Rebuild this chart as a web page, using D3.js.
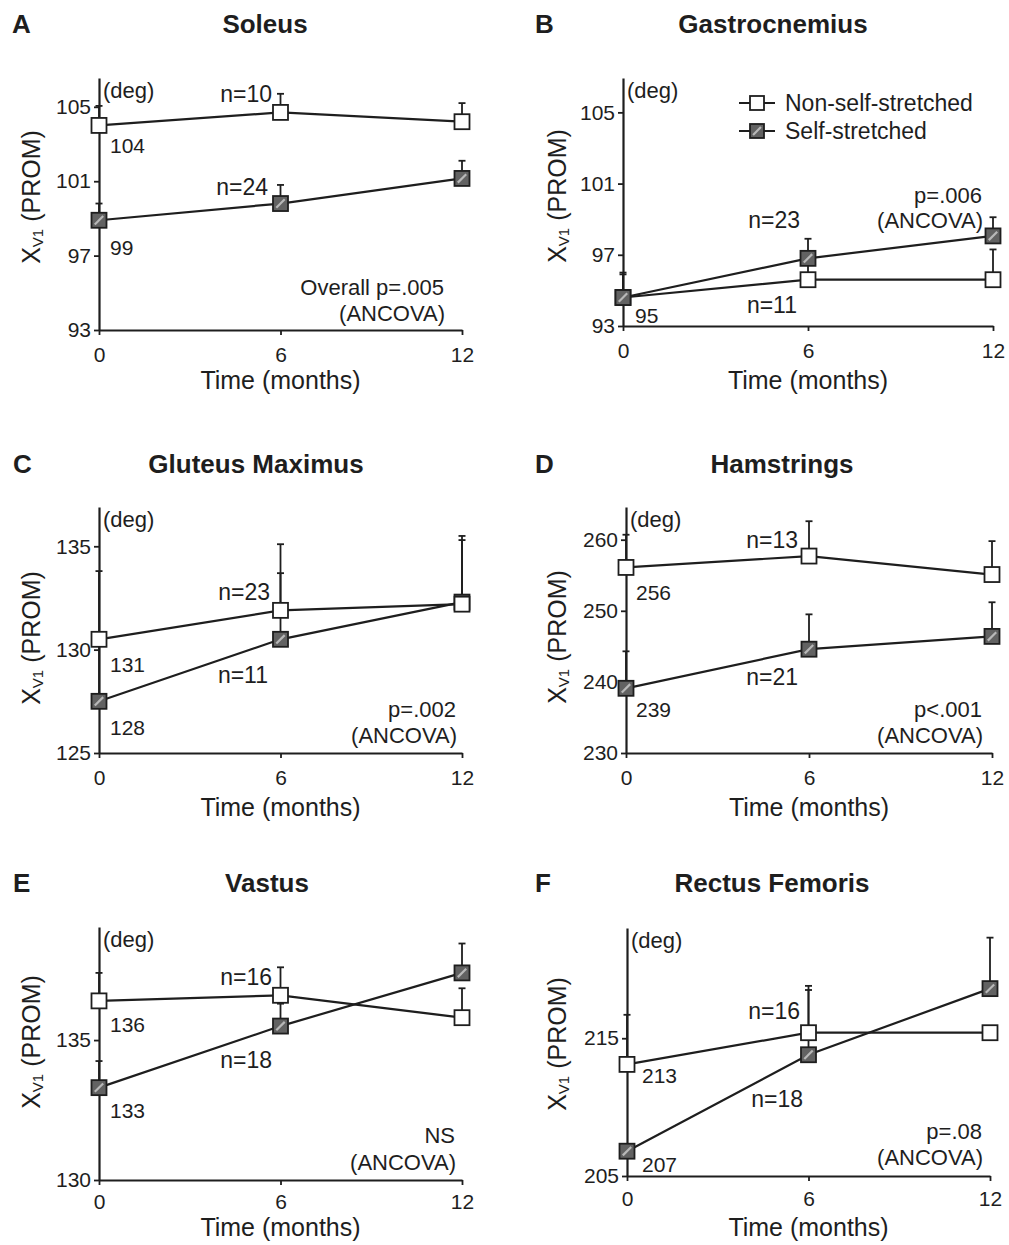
<!DOCTYPE html>
<html><head><meta charset="utf-8">
<script src="https://cdn.jsdelivr.net/npm/d3@7"></script>
<style>
body{margin:0;background:#fff;}
svg{display:block;background:#fff;}
text{font-family:"Liberation Sans",Arial,Helvetica,sans-serif;fill:#1e1e1e;}
</style></head><body>
<svg id="chart" width="1009" height="1245"></svg>
<script>
// ---------- DATA ----------
const months = [0, 6, 12];
const seriesNames = ["Non-self-stretched", "Self-stretched"];
const panelLetters = ["A", "B", "C", "D", "E", "F"];
const panelTitles = ["Soleus", "Gastrocnemius", "Gluteus Maximus", "Hamstrings", "Vastus", "Rectus Femoris"];
const yTickValues = [[93, 97, 101, 105], [93, 97, 101, 105], [125, 130, 135], [230, 240, 250, 260], [130, 135], [205, 215]];
const yAxisMin = [93, 93, 125, 230, 130, 205];
const yAxisMax = [106.55, 106.93, 136.9, 264.6, 139.04, 223.0];

const nonMean = [[104.0, 104.7, 104.2], [94.6, 95.6, 95.6], [130.5, 131.9, 132.2], [256.1, 257.7, 255.1], [136.4, 136.6, 135.8], [213.1, 215.4, 215.4]];
const nonErr  = [[1.05, 1.0, 1.0], [1.3, 1.1, 1.7], [3.3, 3.2, 3.3], [4.6, 4.9, 4.7], [1.0, 1.0, 1.05], [3.6, 3.4, null]];
const selfMean = [[98.9, 99.8, 101.15], [94.6, 96.8, 98.06], [127.5, 130.5, 132.3], [239.1, 244.6, 246.4], [133.3, 135.5, 137.4], [206.8, 213.8, 218.6]];
const selfErr  = [[0.9, 1.0, 0.95], [1.4, 1.1, 1.05], [2.8, 3.2, 3.0], [5.2, 4.9, 4.8], [0.95, 0.8, 1.05], [null, 4.7, 3.7]];

const nLabelNon  = ["n=10", "n=11", "n=23", "n=13", "n=16", "n=16"];
const nLabelSelf = ["n=24", "n=23", "n=11", "n=21", "n=18", "n=18"];
const baseLabelNon  = ["104", "95", "131", "256", "136", "213"];
const baseLabelSelf = ["99", "", "128", "239", "133", "207"];
const statLabels = ["Overall p=.005", "p=.006", "p=.002", "p<.001", "NS", "p=.08"];
const statMethod = "(ANCOVA)";
const xAxisTitle = "Time (months)";

// ---------- LAYOUT ----------
const layout = [
  {x0: 99, x1: 462, yb: 330, yt: 78, letter: [12, 33], title: [265, 33], ylab: [31, 197], xlab: 389, tpad: 12,
   nNon: [272, 102], nSelf: [268, 195], bNon: [110, 153], bSelf: [110, 255], stat: [444, 295, 321], selfOnTop: false},
  {x0: 623, x1: 993, yb: 326, yt: 78, letter: [535, 33], title: [773, 33], ylab: [557, 196], xlab: 389, tpad: 12,
   nNon: [797, 313], nSelf: [800, 228], bNon: [635, 323], bSelf: [635, 323], stat: [982, 203, 228], selfOnTop: true, legend: true},
  {x0: 99, x1: 462, yb: 753, yt: 507, letter: [13, 473], title: [256, 473], ylab: [31, 638], xlab: 816, tpad: 12,
   nNon: [270, 600], nSelf: [268, 683], bNon: [110, 672], bSelf: [110, 735], stat: [456, 717, 743], selfOnTop: false},
  {x0: 626, x1: 992, yb: 753, yt: 507, letter: [535, 473], title: [782, 473], ylab: [557, 637], xlab: 816, tpad: 12,
   nNon: [798, 548], nSelf: [798, 685], bNon: [636, 600], bSelf: [636, 717], stat: [982, 717, 743], selfOnTop: false},
  {x0: 99, x1: 462, yb: 1180, yt: 927, letter: [13, 892], title: [267, 892], ylab: [31, 1042], xlab: 1236, tpad: 9,
   nNon: [272, 985], nSelf: [272, 1068], bNon: [110, 1032], bSelf: [110, 1118], stat: [455, 1143, 1170], selfOnTop: false},
  {x0: 627, x1: 990, yb: 1176, yt: 928, letter: [535, 892], title: [772, 892], ylab: [557, 1044], xlab: 1236, tpad: 10,
   nNon: [800, 1019], nSelf: [803, 1107], bNon: [642, 1083], bSelf: [642, 1172], stat: [982, 1139, 1165], selfOnTop: false}
];

const INK = "#1e1e1e";
const MS = 15; // marker size
const svg = d3.select("#chart");

function txt(g, x, y, s, size, anchor, weight) {
  return g.append("text").attr("x", x).attr("y", y)
    .attr("font-size", size).attr("text-anchor", anchor || "start")
    .attr("font-weight", weight || "normal").text(s);
}

function drawMarker(g, cx, cy, isSelf, size) {
  const s = size || MS;
  g.append("rect").attr("x", cx - s / 2).attr("y", cy - s / 2).attr("width", s).attr("height", s)
    .attr("fill", isSelf ? "#626262" : "#fff").attr("stroke", INK).attr("stroke-width", 1.8);
  if (isSelf) {
    g.append("line").attr("x1", cx - s * 0.28).attr("y1", cy + s * 0.28)
      .attr("x2", cx + s * 0.28).attr("y2", cy - s * 0.28)
      .attr("stroke", "#b8b8b8").attr("stroke-width", 2.2);
  }
}

panelTitles.forEach((title, i) => {
  const L = layout[i];
  const g = svg.append("g");
  const x = d3.scaleLinear().domain([0, 12]).range([L.x0, L.x1]);
  const y = d3.scaleLinear().domain([yAxisMin[i], yAxisMax[i]]).range([L.yb, L.yt]);

  // axes
  const ya = g.append("g").attr("transform", `translate(${L.x0},0)`)
    .call(d3.axisLeft(y).tickValues(yTickValues[i]).tickSize(5).tickPadding(3).tickSizeOuter(0));
  const xa = g.append("g").attr("transform", `translate(0,${L.yb})`)
    .call(d3.axisBottom(x).tickValues(months).tickSize(5).tickPadding(L.tpad).tickSizeOuter(0));
  [ya, xa].forEach(a => {
    a.select(".domain").attr("stroke", INK).attr("stroke-width", 2.2);
    a.selectAll(".tick line").attr("stroke", INK).attr("stroke-width", 1.8);
    a.selectAll(".tick text").attr("font-size", 21).attr("fill", INK)
      .attr("font-family", '"Liberation Sans",Arial,sans-serif');
  });

  // titles
  txt(g, L.letter[0], L.letter[1], panelLetters[i], 26, "start", "bold");
  txt(g, L.title[0], L.title[1], title, 26, "middle", "bold");
  txt(g, L.x0 + 4, L.yt + 20, "(deg)", 22, "start");
  txt(g, (L.x0 + L.x1) / 2, L.xlab, xAxisTitle, 25, "middle");
  const yl = g.append("text").attr("transform", `translate(${L.ylab[0]},${L.ylab[1]}) rotate(-90)`)
    .attr("text-anchor", "middle").attr("dominant-baseline", "central").attr("font-size", 25);
  yl.append("tspan").text("X");
  yl.append("tspan").attr("font-size", 15).attr("dy", 6).text("V1");
  yl.append("tspan").attr("dy", -6).text(" (PROM)");

  // series
  const series = [
    {mean: nonMean[i], err: nonErr[i], self: false},
    {mean: selfMean[i], err: selfErr[i], self: true}
  ];
  const order = L.selfOnTop ? [0, 1] : [1, 0];
  // error bars
  series.forEach(s => {
    s.mean.forEach((m, k) => {
      const e = s.err[k];
      if (e == null) return;
      const cx = x(months[k]);
      g.append("line").attr("x1", cx).attr("x2", cx).attr("y1", y(m)).attr("y2", y(m + e))
        .attr("stroke", INK).attr("stroke-width", 1.8);
      g.append("line").attr("x1", cx - 3.5).attr("x2", cx + 3.5).attr("y1", y(m + e)).attr("y2", y(m + e))
        .attr("stroke", INK).attr("stroke-width", 1.8);
    });
  });
  const line = d3.line().x((d, k) => x(months[k])).y(d => y(d));
  order.forEach(idx => {
    const s = series[idx];
    g.append("path").attr("d", line(s.mean)).attr("fill", "none").attr("stroke", INK).attr("stroke-width", 2.2);
  });
  order.forEach(idx => {
    const s = series[idx];
    s.mean.forEach((m, k) => drawMarker(g, x(months[k]), y(m), s.self));
  });

  // annotations
  txt(g, L.nNon[0], L.nNon[1], nLabelNon[i], 23, "end");
  txt(g, L.nSelf[0], L.nSelf[1], nLabelSelf[i], 23, "end");
  if (baseLabelNon[i]) txt(g, L.bNon[0], L.bNon[1], baseLabelNon[i], 21, "start");
  if (baseLabelSelf[i]) txt(g, L.bSelf[0], L.bSelf[1], baseLabelSelf[i], 21, "start");
  txt(g, L.stat[0], L.stat[1], statLabels[i], 22, "end");
  txt(g, L.stat[0] + 1, L.stat[2], statMethod, 22, "end");

  // legend
  if (L.legend) {
    seriesNames.forEach((name, k) => {
      const ly = 103 + k * 28;
      g.append("line").attr("x1", 739).attr("x2", 775).attr("y1", ly).attr("y2", ly)
        .attr("stroke", INK).attr("stroke-width", 2.2);
      drawMarker(g, 757, ly, k === 1, 14);
      txt(g, 785, ly + 8, name, 23, "start");
    });
  }
});
</script>
</body></html>
